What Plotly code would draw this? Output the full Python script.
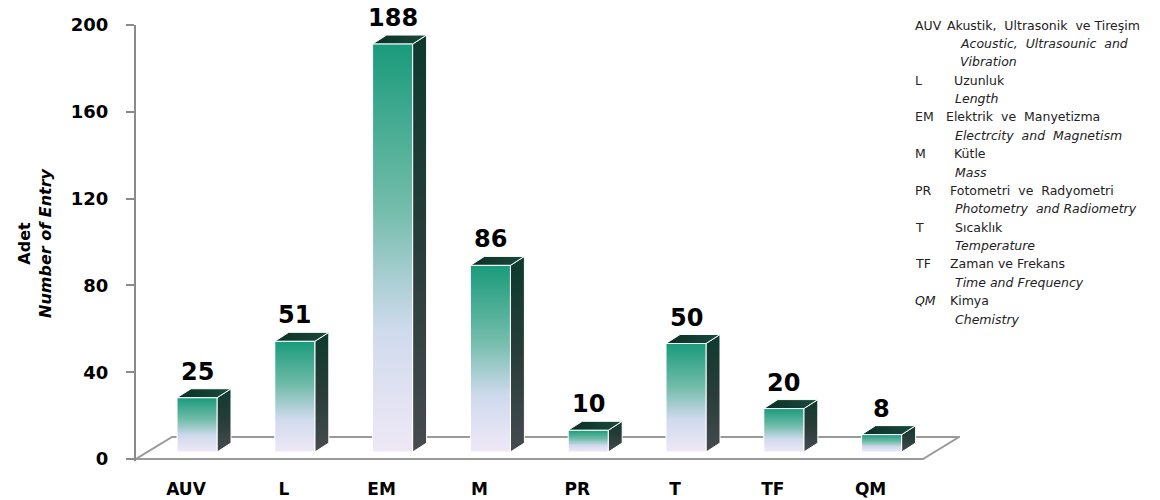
import plotly.graph_objects as go

# ---------------- data ----------------
categories = ["AUV", "L", "EM", "M", "PR", "T", "TF", "QM"]
values = [25, 51, 188, 86, 10, 50, 20, 8]
y_tick_values = [0, 40, 80, 120, 160, 200]

legend_codes = ["AUV", "L", "EM", "M", "PR", "T", "TF", "QM"]
legend_turkish = ["Akustik,  Ultrasonik  ve Tireşim", "Uzunluk", "Elektrik  ve  Manyetizma", "Kütle",
                  "Fotometri  ve  Radyometri", "Sıcaklık", "Zaman ve Frekans", "Kimya"]
legend_english = [["Acoustic,  Ultrasounic  and", "Vibration"], ["Length"], ["Electrcity  and  Magnetism"],
                  ["Mass"], ["Photometry  and Radiometry"], ["Temperature"], ["Time and Frequency"],
                  ["Chemistry"]]

# ---------------- layout geometry (pixels) ----------------
W, H = 1160, 500
PL, PRX, PT = 136, 960, 25          # plot area left/right/top
ZERO_PX = 459                        # pixel row of value 0
YMAX = 200
PY_PER = (ZERO_PX - PT) / YMAX       # px per value unit
Y_LOW = -2 / PY_PER
PB = ZERO_PX + 2
CAT0_PX, STEP_PX = 186, 97.8


def xu(px):
    return px / STEP_PX


def yu(px):
    return px / PY_PER


def paper_x(px):
    return (px - PL) / (PRX - PL)


def paper_y(py):
    return (PB - py) / (PB - PT)


x_range = [(PL - CAT0_PX) / STEP_PX, (PRX - CAT0_PX) / STEP_PX]

FRONT_W = xu(40)
FRONT_DX = xu(11)
BASE = yu(7)
SIDE_DX = xu(14)
SIDE_DY = yu(9)

FLOOR_RIGHT = (923 - CAT0_PX) / STEP_PX
FLOOR_DX = xu(36)
FLOOR_DY = yu(22)

front_cs = [[0, "#efe8f6"], [0.3, "#cfdaed"], [0.6, "#72bcaa"], [1, "#1a9b7b"]]
side_cs = [[0, "#464b50"], [0.5, "#283d39"], [1, "#0d3a2e"]]
top_cs = [[0, "#0b2f25"], [1, "#1a4a3d"]]

fig = go.Figure()

for i, v in enumerate(values):
    xl = i + FRONT_DX - FRONT_W / 2
    xr = xl + FRONT_W
    b = BASE
    t = BASE + v
    # side face
    fig.add_trace(go.Scatter(
        x=[xr, xr + SIDE_DX, xr + SIDE_DX, xr, xr],
        y=[b, b + SIDE_DY, t + SIDE_DY, t, b],
        mode="lines", fill="toself", line=dict(color="white", width=1),
        fillgradient=dict(type="vertical", colorscale=side_cs),
        hoverinfo="skip", showlegend=False))
    # top face
    fig.add_trace(go.Scatter(
        x=[xl, xr, xr + SIDE_DX, xl + SIDE_DX, xl],
        y=[t, t, t + SIDE_DY, t + SIDE_DY, t],
        mode="lines", fill="toself", line=dict(color="white", width=1),
        fillgradient=dict(type="horizontal", colorscale=top_cs),
        hoverinfo="skip", showlegend=False))
    # front face
    fig.add_trace(go.Scatter(
        x=[xl, xr, xr, xl, xl],
        y=[b, b, t, t, b],
        mode="lines", fill="toself", line=dict(color="white", width=1),
        fillgradient=dict(type="vertical", colorscale=front_cs),
        hoverinfo="skip", showlegend=False))
    # value label
    fig.add_annotation(x=(xl + xr) / 2, y=t + SIDE_DY, xref="x", yref="y",
                       text=str(v), showarrow=False, yanchor="bottom", yshift=1,
                       font=dict(family="DejaVu Sans", size=24, color="black", weight="bold"))

# floor
x0 = x_range[0]
fig.add_shape(type="path", xref="x", yref="y", layer="below",
              path=f"M {x0},0 L {FLOOR_RIGHT},0 L {FLOOR_RIGHT + FLOOR_DX},{FLOOR_DY} "
                   f"L {x0 + FLOOR_DX},{FLOOR_DY} Z",
              fillcolor="white", line=dict(color="#9a9a9a", width=2))

# y-axis title
fig.add_annotation(xref="paper", yref="paper", x=paper_x(35), y=paper_y(243),
                   text="<b>Adet</b><br><b><i>Number of Entry</i></b>", textangle=-90,
                   showarrow=False, xanchor="center", yanchor="middle",
                   font=dict(family="DejaVu Sans", size=16, color="black"))

# right-side legend text
code_x = 913
tr_x = {"AUV": 945, "L": 952, "EM": 944, "M": 952, "PR": 948, "T": 953, "TF": 948, "QM": 948}
en_x = {"AUV": 958}
row = 0
ROW_H = 18.375
ROW0 = 25
legend_font = dict(family="DejaVu Sans", size=12.5, color="#222")
for code, tr, en_lines in zip(legend_codes, legend_turkish, legend_english):
    yy = ROW0 + row * ROW_H
    fig.add_annotation(xref="paper", yref="paper", x=paper_x(code_x), y=paper_y(yy), text=code,
                       showarrow=False, xanchor="left", yanchor="middle",
                       font=dict(legend_font, style="italic" if code == "QM" else "normal"))
    fig.add_annotation(xref="paper", yref="paper", x=paper_x(tr_x[code]), y=paper_y(yy), text=tr,
                       showarrow=False, xanchor="left", yanchor="middle", font=legend_font)
    row += 1
    for en in en_lines:
        yy = ROW0 + row * ROW_H
        fig.add_annotation(xref="paper", yref="paper", x=paper_x(en_x.get(code, 953)), y=paper_y(yy),
                           text=en, showarrow=False, xanchor="left", yanchor="middle",
                           font=dict(legend_font, style="italic"))
        row += 1

fig.update_layout(
    width=W, height=H,
    margin=dict(l=PL, r=W - PRX, t=PT, b=H - PB, autoexpand=False),
    paper_bgcolor="white", plot_bgcolor="white",
    showlegend=False,
    xaxis=dict(range=x_range, tickmode="array", tickvals=list(range(len(categories))),
               ticktext=categories, showgrid=False, zeroline=False, showline=False, ticks="",
               ticklabelstandoff=16, automargin=False,
               tickfont=dict(family="DejaVu Sans", size=17, color="black", weight="bold")),
    yaxis=dict(range=[Y_LOW, YMAX], tickmode="array", tickvals=y_tick_values,
               showgrid=False, zeroline=False, showline=True, linecolor="#8a8a8a", linewidth=2,
               ticks="outside", ticklen=8, tickwidth=2, tickcolor="#8a8a8a",
               ticklabelstandoff=14, automargin=False,
               tickfont=dict(family="DejaVu Sans", size=18, color="black", weight="bold")),
)

fig.write_html("out.html")
